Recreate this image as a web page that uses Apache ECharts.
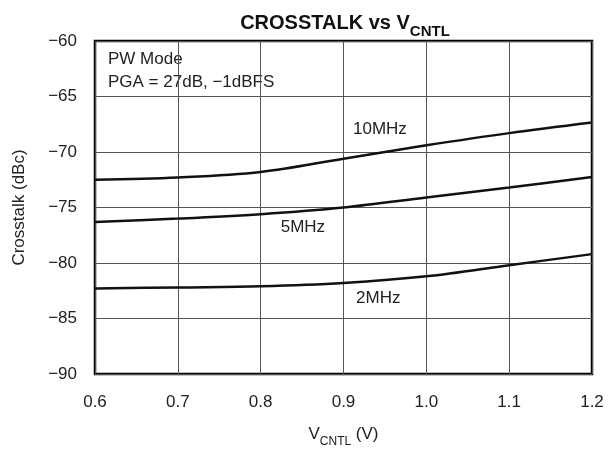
<!DOCTYPE html>
<html><head><meta charset="utf-8">
<script src="https://cdn.jsdelivr.net/npm/echarts@6/dist/echarts.min.js"></script>
<style>html,body{margin:0;padding:0;background:#fff}#c{width:613px;height:453px}</style>
</head><body><div id="c"></div>
<script>
const vcntl = [0.6, 0.7, 0.8, 0.9, 1.0, 1.1, 1.2];
const xt10MHz = [-72.5, -72.3, -71.8, -70.6, -69.4, -68.3, -67.35];
const xt5MHz = [-76.3, -76.0, -75.6, -75.0, -74.1, -73.2, -72.25];
const xt2MHz = [-82.3, -82.2, -82.1, -81.8, -81.2, -80.2, -79.2];
const seriesNames = ['10MHz', '5MHz', '2MHz'];
const labelAt = [[0.944, -68.0], [0.851, -76.8], [0.942, -83.2]];
const notes = ['PW Mode', 'PGA = 27dB, \u22121dBFS'];

const FONT = '"Liberation Sans", Arial, Helvetica, sans-serif';
const FS = 17;
const chart = echarts.init(document.getElementById('c'), null, {renderer: 'canvas'});
const pairs = arr => vcntl.map((x, i) => [x, arr[i]]);
const allY = [xt10MHz, xt5MHz, xt2MHz];

chart.setOption({
  animation: false,
  backgroundColor: '#fff',
  title: {
    text: '{a|CROSSTALK vs V}{b|CNTL}',
    left: 340, textAlign: 'center', top: 4,
    textStyle: {
      rich: {
        a: {fontFamily: FONT, fontSize: 20, fontWeight: 'bold', color: '#111', verticalAlign: 'bottom', lineHeight: 24},
        b: {fontFamily: FONT, fontSize: 15, fontWeight: 'bold', color: '#111', verticalAlign: 'bottom', lineHeight: 24, padding: [0,0,-6,0]}
      }
    }
  },
  grid: {left: 95, right: 21, top: 41, bottom: 74, show: true, borderColor: '#000', borderWidth: 2.5},
  xAxis: {
    type: 'value', min: 0.6, max: 1.2, interval: 0.1,
    axisLine: {show: false}, axisTick: {show: false},
    splitLine: {lineStyle: {color: '#555', width: 1}},
    axisLabel: {margin: 20, fontFamily: FONT, fontSize: FS, color: '#222', formatter: v => v.toFixed(1)},
    name: '{a|V}{b|CNTL}{a| (V)}', nameLocation: 'middle', nameGap: 49,
    nameTextStyle: {
      rich: {
        a: {fontFamily: FONT, fontSize: FS, color: '#222', lineHeight: 20, verticalAlign: 'bottom'},
        b: {fontFamily: FONT, fontSize: 12, color: '#222', lineHeight: 20, verticalAlign: 'bottom', padding: [0,0,-5,0]}
      }
    }
  },
  yAxis: {
    type: 'value', min: -90, max: -60, interval: 5,
    axisLine: {show: false}, axisTick: {show: false},
    splitLine: {lineStyle: {color: '#555', width: 1}},
    axisLabel: {margin: 18, fontFamily: FONT, fontSize: FS, color: '#222', formatter: v => String(v).replace('-', '\u2212')},
    name: 'Crosstalk (dBc)', nameLocation: 'middle', nameGap: 67,
    nameTextStyle: {fontFamily: FONT, fontSize: FS, color: '#222'}
  },
  series: allY.map((arr, i) => ({
    type: 'line', name: seriesNames[i], data: pairs(arr),
    smooth: 0.35, symbol: 'none',
    lineStyle: {color: '#111', width: 2.5},
    markPoint: {
      symbol: 'circle', symbolSize: 0,
      label: {show: true, position: 'inside', formatter: seriesNames[i], fontFamily: FONT, fontSize: FS, color: '#222'},
      data: [{coord: labelAt[i], value: seriesNames[i]}]
    }
  })),
  graphic: notes.map((t, i) => ({
    type: 'text', left: 108, top: 51 + i * 23,
    style: {text: t, fontFamily: FONT, fontSize: FS, fill: '#222'}
  }))
});
</script></body></html>
